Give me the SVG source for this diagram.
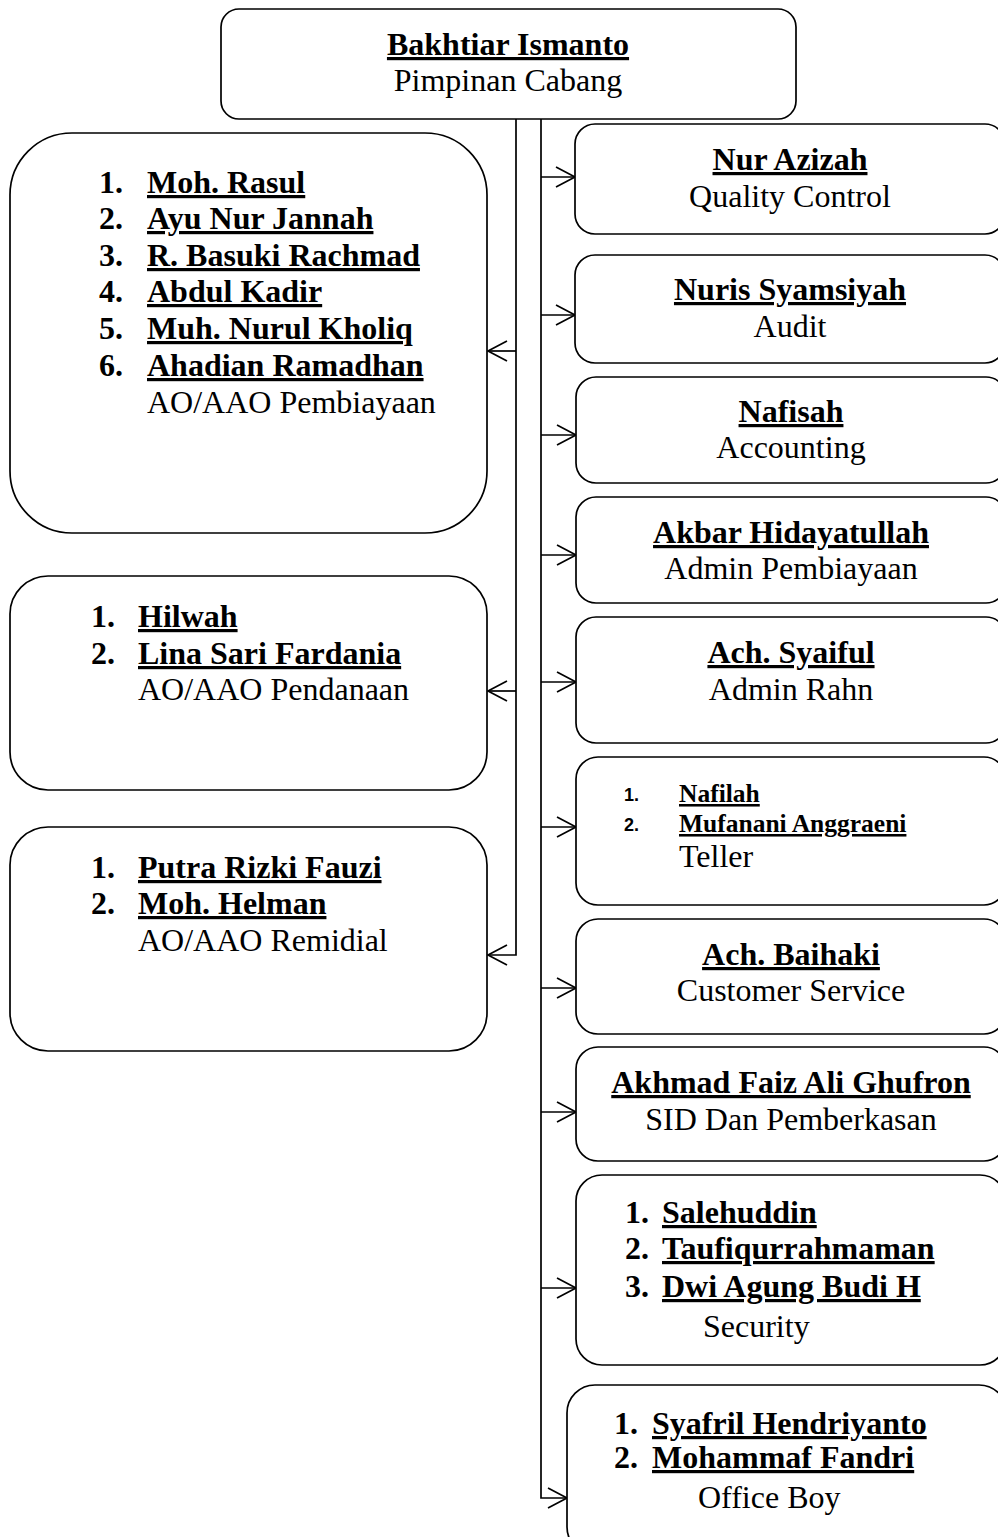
<svg xmlns="http://www.w3.org/2000/svg" width="998" height="1537" viewBox="0 0 998 1537">
<defs>
<style>
.box{fill:#fff;stroke:#000;stroke-width:1.7}
.ln{fill:none;stroke:#000;stroke-width:1.7}
text{font-family:"Liberation Serif","Times New Roman",serif;font-size:32px;fill:#000}
.b{font-weight:bold}
.u{font-weight:bold;text-decoration:underline;text-decoration-skip-ink:none;text-decoration-thickness:2.6px;text-underline-offset:3px}
.m{text-anchor:middle}
.sm{font-size:25.5px;text-decoration-thickness:2.2px}
.num2{font-family:"Liberation Sans",Arial,sans-serif;font-size:18px;font-weight:bold}
</style>
<marker id="ah" markerUnits="userSpaceOnUse" markerWidth="22" markerHeight="24" viewBox="0 0 22 24" refX="20" refY="12" orient="auto">
<path d="M1,2 L20,12 L1,22" fill="none" stroke="#000" stroke-width="1.7"/>
</marker>
</defs>
<rect width="998" height="1537" fill="#fff"/>

<g id="connectors">
<path class="ln" d="M516,119 V955 H488" marker-end="url(#ah)"/>
<path class="ln" d="M516,351 H488" marker-end="url(#ah)"/>
<path class="ln" d="M516,691 H488" marker-end="url(#ah)"/>
<path class="ln" d="M541,119 V1498 H567" marker-end="url(#ah)"/>
<path class="ln" d="M541,177 H575" marker-end="url(#ah)"/>
<path class="ln" d="M541,315 H575" marker-end="url(#ah)"/>
<path class="ln" d="M541,435 H576" marker-end="url(#ah)"/>
<path class="ln" d="M541,555 H576" marker-end="url(#ah)"/>
<path class="ln" d="M541,682 H576" marker-end="url(#ah)"/>
<path class="ln" d="M541,827 H576" marker-end="url(#ah)"/>
<path class="ln" d="M541,988 H576" marker-end="url(#ah)"/>
<path class="ln" d="M541,1112 H576" marker-end="url(#ah)"/>
<path class="ln" d="M541,1288 H576" marker-end="url(#ah)"/>
</g>

<g id="pimpinan">
<rect class="box" x="221" y="9" width="575" height="110" rx="18"/>
<text class="u m" x="508" y="55">Bakhtiar Ismanto</text>
<text class="m" x="508" y="91">Pimpinan Cabang</text>
</g>

<g id="ao-pembiayaan">
<rect class="box" x="10" y="133" width="477" height="400" rx="62"/>
<text class="b" x="99" y="193">1.</text><text class="u" x="147" y="193">Moh. Rasul</text>
<text class="b" x="99" y="229">2.</text><text class="u" x="147" y="229">Ayu Nur Jannah</text>
<text class="b" x="99" y="266">3.</text><text class="u" x="147" y="266">R. Basuki Rachmad</text>
<text class="b" x="99" y="302">4.</text><text class="u" x="147" y="302">Abdul Kadir</text>
<text class="b" x="99" y="339">5.</text><text class="u" x="147" y="339">Muh. Nurul Kholiq</text>
<text class="b" x="99" y="376">6.</text><text class="u" x="147" y="376">Ahadian Ramadhan</text>
<text x="147" y="413">AO/AAO Pembiayaan</text>
</g>

<g id="ao-pendanaan">
<rect class="box" x="10" y="576" width="477" height="214" rx="38"/>
<text class="b" x="91" y="627">1.</text><text class="u" x="138" y="627">Hilwah</text>
<text class="b" x="91" y="664">2.</text><text class="u" x="138" y="664">Lina Sari Fardania</text>
<text x="138" y="700">AO/AAO Pendanaan</text>
</g>

<g id="ao-remidial">
<rect class="box" x="10" y="827" width="477" height="224" rx="38"/>
<text class="b" x="91" y="878">1.</text><text class="u" x="138" y="878">Putra Rizki Fauzi</text>
<text class="b" x="91" y="914">2.</text><text class="u" x="138" y="914">Moh. Helman</text>
<text x="138" y="951">AO/AAO Remidial</text>
</g>

<g id="quality-control">
<rect class="box" x="575" y="124" width="430" height="110" rx="20"/>
<text class="u m" x="790" y="170">Nur Azizah</text>
<text class="m" x="790" y="207">Quality Control</text>
</g>

<g id="audit">
<rect class="box" x="575" y="255" width="430" height="108" rx="20"/>
<text class="u m" x="790" y="300">Nuris Syamsiyah</text>
<text class="m" x="790" y="337">Audit</text>
</g>

<g id="accounting">
<rect class="box" x="576" y="377" width="430" height="106" rx="20"/>
<text class="u m" x="791" y="422">Nafisah</text>
<text class="m" x="791" y="458">Accounting</text>
</g>

<g id="admin-pembiayaan">
<rect class="box" x="576" y="497" width="430" height="106" rx="20"/>
<text class="u m" x="791" y="543">Akbar Hidayatullah</text>
<text class="m" x="791" y="579">Admin Pembiayaan</text>
</g>

<g id="admin-rahn">
<rect class="box" x="576" y="617" width="430" height="126" rx="20"/>
<text class="u m" x="791" y="663">Ach. Syaiful</text>
<text class="m" x="791" y="700">Admin Rahn</text>
</g>

<g id="teller">
<rect class="box" x="576" y="757" width="430" height="148" rx="22"/>
<text class="num2" x="624" y="801">1.</text><text class="u sm" x="679" y="802">Nafilah</text>
<text class="num2" x="624" y="831">2.</text><text class="u sm" x="679" y="832">Mufanani Anggraeni</text>
<text x="679" y="867">Teller</text>
</g>

<g id="customer-service">
<rect class="box" x="576" y="919" width="430" height="115" rx="22"/>
<text class="u m" x="791" y="965">Ach. Baihaki</text>
<text class="m" x="791" y="1001">Customer Service</text>
</g>

<g id="sid-pemberkasan">
<rect class="box" x="576" y="1047" width="430" height="114" rx="22"/>
<text class="u m" x="791" y="1093">Akhmad Faiz Ali Ghufron</text>
<text class="m" x="791" y="1130">SID Dan Pemberkasan</text>
</g>

<g id="security">
<rect class="box" x="576" y="1175" width="430" height="190" rx="26"/>
<text class="b" x="625" y="1223">1.</text><text class="u" x="662" y="1223">Salehuddin</text>
<text class="b" x="625" y="1259">2.</text><text class="u" x="662" y="1259">Taufiqurrahmaman</text>
<text class="b" x="625" y="1297">3.</text><text class="u" x="662" y="1297">Dwi Agung Budi H</text>
<text x="703" y="1337">Security</text>
</g>

<g id="office-boy">
<rect class="box" x="567" y="1385" width="440" height="170" rx="28"/>
<text class="b" x="614" y="1434">1.</text><text class="u" x="652" y="1434">Syafril Hendriyanto</text>
<text class="b" x="614" y="1468">2.</text><text class="u" x="652" y="1468">Mohammaf Fandri</text>
<text x="698" y="1508">Office Boy</text>
</g>
</svg>
